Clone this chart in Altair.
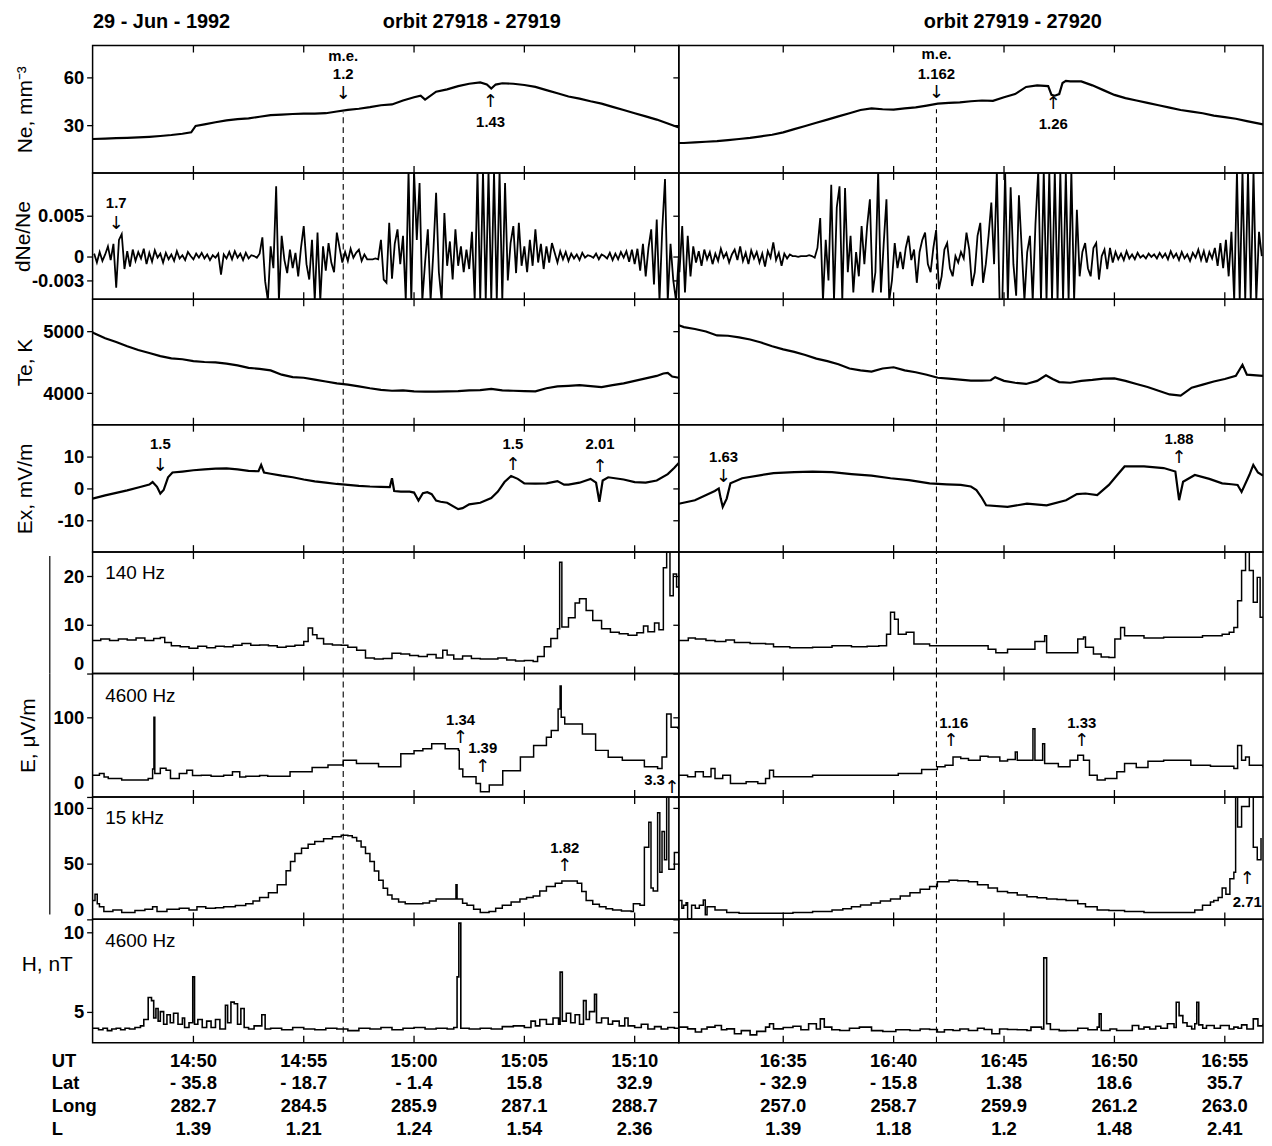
import altair as alt
import pandas as pd

# ---------------------------------------------------------------- data
# time in minutes: orbit 27918-27919 counted from 14:00 UT, orbit 27919-27920 from 16:00 UT
X_DOMAIN_L = [45.43, 72.0]
X_DOMAIN_R = [30.27, 56.73]
UT_TICKS_L = [50, 55, 60, 65, 70]
UT_TICKS_R = [35, 40, 45, 50, 55]
ME_L = 56.79
ME_R = 41.94

UT_L = ["14:50", "14:55", "15:00", "15:05", "15:10"]
LAT_L = ["- 35.8", "- 18.7", "- 1.4", "15.8", "32.9"]
LONG_L = ["282.7", "284.5", "285.9", "287.1", "288.7"]
L_L = ["1.39", "1.21", "1.24", "1.54", "2.36"]
UT_R = ["16:35", "16:40", "16:45", "16:50", "16:55"]
LAT_R = ["- 32.9", "- 15.8", "1.38", "18.6", "35.7"]
LONG_R = ["257.0", "258.7", "259.9", "261.2", "263.0"]
L_R = ["1.39", "1.18", "1.2", "1.48", "2.41"]

# Ne, mm-3
NE_L_T = [45.43, 46, 46.5, 47, 47.5, 48, 48.5, 49, 49.5, 49.9, 50.1, 50.5, 51, 51.5, 52, 52.5, 53, 53.5, 54, 54.5,
          55, 55.5, 56, 56.5, 57, 57.5, 58, 58.5, 59, 59.5, 60, 60.3, 60.5, 61, 61.5, 62, 62.5, 63, 63.3, 63.5,
          63.7, 64, 64.5, 65, 65.5, 66, 66.5, 67, 67.5, 68, 68.5, 69, 69.5, 70, 70.5, 71, 71.5, 72]
NE_L_V = [21.3, 21.5, 21.8, 22.0, 22.3, 22.7, 23.2, 23.8, 24.6, 25.5, 29.5, 30.5, 31.8, 33.0, 33.8, 34.3, 35.3, 36.3, 36.6, 37.0,
          37.2, 37.3, 37.5, 38.6, 39.6, 40.3, 41.3, 42.5, 43.0, 45.5, 47.5, 48.5, 46.0, 51.0, 52.5, 54.5, 56.0, 56.8, 55.5, 53.0,
          55.5, 56.3, 56.0, 55.2, 54.0, 52.0, 50.0, 48.0, 46.7, 45.0, 43.5, 41.5, 39.5, 37.5, 35.5, 33.5, 31.0, 28.5]
NE_R_T = [30.27, 30.5, 31, 31.5, 32, 32.5, 33, 33.5, 34, 34.5, 35, 35.5, 36, 36.5, 37, 37.5, 38, 38.5, 39, 39.5,
          40, 40.5, 41, 41.5, 42, 42.5, 43, 43.5, 44, 44.5, 45, 45.5, 46, 46.5, 47, 47.15, 47.3, 47.5, 47.65, 47.8,
          48, 48.5, 49, 49.5, 50, 50.5, 51, 51.5, 52, 52.5, 53, 53.5, 54, 54.5, 55, 55.5, 56, 56.73]
NE_R_V = [18.8, 18.8, 19.2, 19.6, 20.0, 20.6, 21.3, 22.0, 23.0, 24.0, 25.5, 27.5, 29.5, 31.5, 33.5, 35.5, 37.5, 39.5, 40.5, 40.0,
          39.8, 40.5, 41.2, 42.3, 43.5, 44.0, 44.3, 45.0, 45.5, 45.3, 47.5, 49.5, 54.0, 55.0, 54.5, 49.0, 48.5, 49.5, 56.5, 57.8,
          57.5, 57.5, 55.0, 52.0, 49.0, 47.0, 45.5, 44.0, 42.5, 41.0, 39.5, 38.5, 37.5, 36.0, 35.0, 34.0, 32.5, 30.5]

# dNe/Ne, in units of 1e-3, sampled every 0.125 min
DNE_L_T0 = 45.5
DNE_R_T0 = 30.3
DNE_DT = 0.125
DNE_L = [0.3, -0.8, 0.5, -0.6, 0.2, 1.2, -0.5, 1.5, -3.9, 2.0,
         2.7, -1.6, 0.6, -1.3, 0.8, -0.6, 0.5, -0.3, 0.9, -1.0,
         0.4, -0.7, 0.7, -0.2, 0.3, -0.8, 0.4, -0.4, 0.2, -0.6,
         0.6, -0.3, 0.1, -0.5, 0.5, 0.0, -0.4, 0.3, -0.2, 0.4,
         -0.3, 0.2, -0.5, 0.1, -0.2, 0.3, -2.3, 0.2, -0.3, 0.5,
         -0.4, 0.6, -0.2, 0.3, -0.5, 0.4, -0.3, 0.1, 0.0, -0.2,
         0.3, 2.3, -3.1, -5.5, 1.2, -1.5, 8.6, -5.5, 2.5, -0.5,
         -2.1, 0.8, -1.5, 0.4, -2.5, 1.0, 3.7, -1.0, -2.9, 2.0,
         -5.5, 2.9, -5.5, 1.2, -1.8, 1.6, -0.8, -2.0, 2.9, 1.0,
         -0.8, 0.5, -0.6, 0.9, -0.2, 0.4, 0.8, -0.6, 0.2, -0.4,
         -0.4, -0.4, -0.3, -0.4, 2.0, -2.9, -3.3, 4.1, -2.8, 1.5,
         3.3, -1.0, 2.5, -5.5, 10.5, -5.5, 10.5, 2.0, 9.0, -5.5,
         -0.8, 3.3, -5.5, 0.5, 7.8, -2.0, -5.5, 5.3, -1.2, 1.8,
         -2.9, 3.3, -1.2, 1.2, -2.0, 0.8, -1.6, 3.0, -5.5, 10.5,
         -5.5, 10.5, -5.5, 10.5, -5.5, 10.5, -5.5, 10.5, -5.5, 9.0,
         -3.0, 1.6, 3.7, -2.1, 4.1, -1.2, 1.2, -2.0, 2.0, -1.2,
         3.3, -0.8, 1.5, -1.6, 1.2, -0.8, 1.6, 0.4, -0.8, 0.6,
         -0.4, 0.5, -0.6, 0.3, -0.3, 0.2, -0.5, 0.4, -0.2, 0.1,
         0.0, -0.2, 0.3, -0.4, 0.2, 0.0, -0.3, 0.4, -0.5, 0.3,
         -0.4, 0.5, -0.2, 0.6, -0.7, 0.8, -1.0, 0.9, -1.8, 1.5,
         -2.5, 1.0, 3.3, -3.5, 4.5, -5.5, 3.3, 9.5, -5.5, 1.5,
         -3.0, -5.5, 0.0]
DNE_R = [-2.0, 3.7, -4.5, 2.5, -2.5, 1.2, -0.8, 0.6, -1.2, 0.8,
         -0.4, 0.5, -1.0, 0.3, -0.6, 0.9, -0.2, 0.4, -0.8, 0.2,
         0.8, -0.5, 1.2, -0.6, 0.4, -1.0, 0.7, -0.3, 0.5, -0.8,
         0.3, -1.3, 0.6, -0.2, 1.7, -0.5, 0.4, -1.2, 0.3, -0.3,
         0.2, 0.0, 0.0, -0.1, 0.0, 0.0, 0.0, 0.1, 0.0, -0.2,
         1.0, 4.7, -5.5, 2.0, -3.0, 8.8, -5.5, 6.0, 8.6, -5.5,
         8.4, -2.0, 2.5, -4.5, 0.5, -2.5, 3.7, -1.0, 3.7, 7.0,
         -4.5, -2.0, 10.5, -4.5, 1.5, 7.0, -5.5, -3.0, 1.6, -1.5,
         0.5, -1.6, 1.0, 2.5, -0.5, 0.8, -3.3, 0.5, 2.0, 2.9,
         -1.0, -2.0, 1.0, 3.2, -4.1, -2.5, 0.8, 1.6, -1.5, -2.5,
         0.0, -0.8, 0.5, -0.3, 2.9, 0.8, -3.7, -2.0, 2.5, 4.1,
         -3.3, -1.0, 2.5, 6.6, -1.0, 10.5, -5.5, -5.5, 10.5, -5.5,
         8.5, -1.0, -4.9, 7.5, 1.0, -5.5, 0.5, 2.5, -5.5, 4.0,
         10.5, -5.5, 10.5, -5.5, 10.5, -5.5, 10.5, -5.5, 10.5, -5.5,
         10.5, -5.5, 10.5, -5.5, 5.7, -2.5, 0.5, 1.6, -1.5, -2.5,
         1.0, 1.6, -2.9, 0.0, 0.8, -1.6, 1.0, -0.8, 0.5, -0.4,
         0.3, -0.5, 0.6, -0.3, 0.2, -0.4, 0.4, -0.2, 0.1, -0.3,
         0.3, -0.1, 0.2, -0.3, 0.4, -0.2, 0.3, -0.4, 0.6, -0.2,
         0.3, -0.5, 0.5, -0.3, 0.2, -0.6, 0.4, -0.2, 0.8, -0.5,
         0.6, -0.8, 0.5, -0.3, 1.0, -1.2, 1.6, -1.5, 2.0, -2.5,
         3.0, -5.5, 10.5, -5.5, 10.5, -5.5, 10.5, -5.5, 10.5, -5.5,
         3.0, 0.0]

# Te, K
TE_L_T = [45.43, 45.5, 46, 46.5, 47, 47.5, 48, 48.5, 49, 49.5, 50, 50.5, 51, 51.5, 52, 52.5, 53, 53.5, 54, 54.5,
          55, 55.5, 56, 56.5, 57, 57.5, 58, 58.5, 59, 59.5, 60, 60.5, 61, 61.5, 62, 62.5, 63, 63.5, 64, 64.5,
          65, 65.5, 66, 66.5, 67, 67.5, 68, 68.5, 69, 69.5, 70, 70.5, 71, 71.3, 71.5, 71.7, 72]
TE_L_V = [4985, 4970, 4890, 4830, 4760, 4700, 4650, 4600, 4565, 4550, 4520, 4505, 4500, 4480, 4450, 4410, 4395, 4370, 4300, 4260,
          4250, 4220, 4190, 4160, 4140, 4110, 4080, 4055, 4040, 4045, 4030, 4025, 4025, 4030, 4035, 4045, 4050, 4070, 4045, 4040,
          4035, 4030, 4080, 4110, 4120, 4130, 4115, 4100, 4130, 4160, 4200, 4240, 4280, 4320, 4330, 4270, 4250]
TE_R_T = [30.27, 30.5, 31, 31.5, 32, 32.5, 33, 33.5, 34, 34.5, 35, 35.5, 36, 36.5, 37, 37.5, 38, 38.5, 39, 39.5,
          40, 40.5, 41, 41.5, 42, 42.5, 43, 43.5, 44, 44.4, 44.6, 45, 45.5, 46, 46.5, 46.9, 47.2, 47.5,
          48, 48.5, 49, 49.5, 50, 50.5, 51, 51.5, 52, 52.5, 53, 53.5, 54, 54.5, 55, 55.5, 55.8, 56, 56.73]
TE_R_V = [5100, 5070, 5040, 5000, 4935, 4930, 4905, 4870, 4820, 4760, 4710, 4670, 4620, 4560, 4520, 4470, 4400, 4370, 4350, 4400,
          4420, 4370, 4340, 4300, 4250, 4235, 4220, 4205, 4205, 4210, 4260, 4200, 4170, 4150, 4200, 4290, 4230, 4180,
          4170, 4200, 4215, 4235, 4240, 4200, 4150, 4100, 4040, 3980, 3960, 4090, 4140, 4190, 4230, 4280, 4460, 4300, 4280]

# Ex, mV/m
EX_L_T = [45.43, 46, 46.5, 47, 47.5, 48, 48.15, 48.35, 48.5, 48.65, 48.85, 49.05, 49.5, 50, 50.5, 51, 51.5, 52, 52.5, 52.95,
          53.07, 53.2, 53.5, 54, 54.5, 55, 55.5, 56, 56.5, 57, 57.5, 58, 58.5, 58.9, 59.0, 59.1, 59.4, 59.8, 60.0, 60.2,
          60.4, 60.6, 60.8, 61.0, 61.2, 61.5, 62.0, 62.2, 62.5, 63.0, 63.5, 63.8, 64.1, 64.4, 64.7, 65.0, 65.5, 66.0, 66.5, 66.8,
          67.0, 67.5, 68.0, 68.25, 68.4, 68.55, 68.8, 69.5, 70.0, 70.5, 71.0, 71.5, 71.8, 72.0]
EX_L_V = [-3.2, -2.2, -1.4, -0.6, 0.3, 1.2, 2.0, 0.5, -1.6, -0.5, 3.5, 5.0, 5.3, 5.7, 6.0, 6.2, 6.3, 6.0, 5.5, 5.4,
          7.4, 5.0, 4.6, 4.0, 3.5, 2.8, 2.2, 1.8, 1.4, 1.1, 0.8, 0.6, 0.5, 0.4, 3.2, -0.8, -1.0, -1.0, -1.3, -3.8,
          -1.5, -1.2, -1.8, -3.8, -4.2, -4.5, -6.5, -6.2, -5.0, -4.5, -3.0, -1.0, 2.0, 3.9, 3.0, 1.6, 1.5, 1.6, 2.3, 1.2,
          1.2, 1.8, 3.0, 1.8, -4.2, 2.5, 3.5, 2.8, 2.0, 1.8, 2.5, 4.5, 6.5, 8.0]
EX_R_T = [30.27, 31.0, 31.9, 32.08, 32.17, 32.26, 32.44, 32.61, 33.14, 34.0, 34.56, 35.5, 36.33, 37.21, 38.09, 39.0, 39.86, 40.7, 41.63, 42.4,
          43.04, 43.5, 43.75, 44.0, 44.19, 45.16, 46.04, 46.93, 47.81, 48.3, 48.69, 49.22, 49.75, 50.1, 50.46, 51.34, 52.23, 52.76, 52.93, 53.11,
          53.64, 54.3, 54.88, 55.3, 55.58, 55.76, 56.11, 56.29, 56.5, 56.73]
EX_R_V = [-4.8, -3.7, -0.8, 0.0, -3.2, -5.8, -3.2, 1.6, 3.2, 4.2, 4.8, 5.1, 5.3, 5.1, 4.5, 4.0, 3.2, 2.6, 1.6, 1.3,
          1.1, 0.6, -0.5, -3.0, -5.3, -5.8, -4.8, -5.3, -3.7, -1.8, -1.6, -2.1, 1.1, 4.0, 6.9, 6.9, 6.4, 5.3, -3.7, 2.1,
          4.2, 3.0, 1.6, 1.3, 1.1, -1.1, 4.2, 7.4, 5.0, 4.0]

# E 140 Hz, uV/m
E140_L_T = [45.43, 45.8, 46.2, 46.6, 47.0, 47.4, 47.8, 48.2, 48.5, 48.7, 49.0, 49.4, 49.8, 50.2, 50.6, 51.0, 51.4, 51.8, 52.2, 52.6,
            53.0, 53.4, 53.8, 54.2, 54.6, 55.0, 55.2, 55.4, 55.6, 55.9, 56.3, 56.7, 57.0, 57.4, 57.8, 58.2, 58.6, 59.0, 59.4, 59.8,
            60.2, 60.6, 61.0, 61.3, 61.5, 61.8, 62.2, 62.6, 63.0, 63.4, 63.8, 64.2, 64.6, 65.0, 65.4, 65.6, 65.9, 66.2, 66.5, 66.6,
            66.7, 67.0, 67.3, 67.5, 67.8, 68.1, 68.5, 68.9, 69.3, 69.7, 70.1, 70.4, 70.6, 70.9, 71.1, 71.3, 71.45, 71.6, 71.75, 71.9, 72.0]
E140_L_V = [6.8, 7.1, 6.8, 7.1, 6.9, 7.3, 6.8, 7.2, 7.4, 6.4, 5.7, 5.5, 5.2, 5.6, 5.3, 5.6, 5.5, 5.8, 6.2, 5.8,
            5.9, 5.7, 5.4, 5.6, 5.8, 6.6, 9.4, 8.0, 7.2, 6.1, 5.9, 5.8, 5.4, 4.8, 3.2, 3.0, 3.1, 4.2, 4.0, 3.7,
            3.5, 3.9, 3.2, 4.8, 3.8, 3.0, 3.6, 3.1, 3.0, 3.0, 3.2, 2.8, 2.6, 2.7, 2.5, 3.5, 5.5, 7.2, 9.2, 22.9,
            9.6, 11.5, 14.5, 15.4, 13.0, 10.9, 9.2, 8.5, 8.2, 7.9, 8.4, 9.8, 8.6, 10.4, 9.0, 21.8, 25.0, 16.0, 20.5, 17.8, 18.0]
E140_R_T = [30.27, 30.7, 31.02, 31.5, 31.91, 32.4, 32.79, 33.5, 34.2, 34.56, 35.3, 36.33, 37.21, 38.09, 38.8, 39.33, 39.68, 39.86, 40.04, 40.21,
            40.57, 40.92, 41.63, 42.51, 43.39, 44.28, 44.63, 45.16, 46.04, 46.4, 46.84, 46.93, 47.81, 48.34, 48.6, 48.69, 49.05, 49.4, 49.75, 50.02,
            50.28, 50.46, 51.34, 52.23, 53.11, 53.99, 54.88, 55.2, 55.41, 55.58, 55.76, 55.94, 56.11, 56.29, 56.47, 56.6, 56.73]
E140_R_V = [6.8, 7.3, 7.1, 6.8, 6.6, 6.9, 6.4, 6.2, 6.1, 5.5, 5.3, 5.4, 5.7, 5.5, 5.6, 5.7, 8.1, 12.6, 11.2, 8.1,
            8.5, 6.1, 5.7, 5.7, 5.7, 5.0, 4.3, 5.0, 5.0, 6.6, 7.8, 4.3, 4.3, 7.1, 7.5, 5.4, 4.0, 3.4, 3.3, 7.1,
            9.5, 7.8, 7.3, 7.45, 7.45, 7.8, 8.1, 8.5, 9.5, 15.0, 21.2, 25.0, 21.2, 14.7, 19.8, 11.6, 11.6]

# E 4600 Hz, uV/m
E46_L_T = [45.44, 45.74, 45.95, 46.14, 46.75, 47.3, 47.95, 48.15, 48.21, 48.25, 48.5, 48.76, 48.96, 49.36, 49.7, 49.96, 50.36, 50.8, 51.37, 51.77,
           52.1, 52.37, 53.0, 53.37, 54.38, 55.38, 56.1, 56.79, 57.39, 58.39, 59.4, 60.0, 60.4, 60.8, 61.41, 62.01, 62.05, 62.21, 62.81, 63.01,
           63.21, 63.41, 64.02, 64.82, 65.42, 66.0, 66.22, 66.53, 66.62, 66.67, 66.83, 67.43, 67.63, 68.23, 68.8, 69.44, 70.44, 71.04, 71.24, 71.45,
           71.65, 71.95]
E46_L_V = [27.4, 29.5, 25.0, 23.2, 21.2, 21.2, 23.2, 35.0, 100.0, 29.5, 36.0, 33.6, 23.2, 29.5, 33.6, 27.0, 27.4, 26.0, 27.4, 31.5,
           25.0, 26.1, 27.0, 26.1, 31.5, 37.0, 40.0, 46.1, 42.0, 37.8, 54.4, 58.0, 60.6, 66.8, 60.6, 58.5, 35.0, 25.3, 17.0, 6.6,
           6.6, 14.9, 33.0, 50.2, 64.7, 75.0, 83.4, 110.4, 139.5, 100.0, 91.7, 91.7, 79.2, 58.5, 50.0, 46.1, 37.8, 35.7, 50.2, 104.2,
           87.6, 85.6]
E46_R_T = [30.27, 30.67, 31.02, 31.38, 31.73, 31.91, 32.26, 32.61, 33.32, 33.85, 34.2, 34.38, 34.56, 35.44, 36.33, 37.21, 38.09, 38.98, 40.21, 41.27,
           41.98, 42.33, 42.69, 43.04, 43.39, 43.92, 44.28, 44.81, 45.16, 45.51, 45.6, 46.22, 46.31, 46.4, 46.75, 46.84, 47.46, 47.99, 48.34, 48.6,
           48.87, 49.22, 49.58, 50.11, 50.46, 50.99, 51.52, 52.23, 52.76, 53.46, 54.35, 55.41, 55.58, 55.76, 55.94, 56.11, 56.73]
E46_R_V = [27.4, 25.3, 31.5, 25.3, 35.7, 23.2, 27.4, 17.0, 19.1, 17.0, 23.2, 33.6, 25.3, 25.3, 27.4, 27.4, 27.4, 27.4, 29.5, 34.5,
           37.8, 39.9, 50.2, 48.2, 46.1, 51.1, 50.2, 45.3, 47.0, 56.5, 46.1, 46.1, 85.6, 46.1, 66.8, 42.0, 37.8, 46.1, 52.3, 46.1,
           27.4, 21.2, 23.2, 31.5, 42.0, 37.0, 44.9, 46.1, 46.1, 39.9, 38.6, 35.7, 64.7, 46.1, 50.2, 39.9, 37.0]

# E 15 kHz, uV/m
E15_L_T = [45.44, 45.54, 45.64, 45.74, 45.94, 46.35, 46.75, 47.35, 47.8, 48.15, 48.35, 48.8, 49.36, 49.8, 50.16, 50.56, 51.0, 51.37, 51.9, 52.37,
           52.7, 53.0, 53.4, 53.8, 54.2, 54.4, 54.6, 54.9, 55.2, 55.5, 55.9, 56.3, 56.7, 57.0, 57.2, 57.4, 57.6, 57.8, 58.0, 58.2,
           58.4, 58.6, 58.8, 59.0, 59.3, 59.6, 60.0, 60.4, 60.7, 61.0, 61.4, 61.8, 61.9, 61.95, 62.2, 62.4, 62.7, 63.0, 63.4, 63.7,
           64.0, 64.4, 64.8, 65.1, 65.4, 65.7, 66.0, 66.4, 66.7, 67.0, 67.4, 67.6, 67.8, 68.1, 68.4, 68.7, 69.0, 69.4, 69.84, 69.94,
           70.24, 70.44, 70.64, 70.74, 70.84, 71.04, 71.14, 71.24, 71.35, 71.45, 71.55, 71.8, 72.0]
E15_L_V = [16.9, 22.6, 14.1, 11.3, 7.0, 8.4, 6.2, 7.9, 9.0, 11.3, 7.0, 9.0, 9.9, 8.5, 11.3, 9.9, 10.5, 11.3, 12.5, 14.1,
           16.5, 19.7, 24.0, 31.0, 43.7, 52.0, 59.2, 64.0, 67.5, 70.0, 72.5, 74.3, 75.5, 75.2, 73.5, 70.5, 65.0, 59.2, 52.0, 43.5,
           35.2, 28.0, 22.0, 18.3, 15.5, 14.1, 14.1, 14.6, 16.5, 18.3, 18.3, 18.3, 31.0, 18.3, 14.5, 12.7, 9.0, 6.2, 7.0, 10.0,
           12.7, 15.5, 18.3, 19.7, 21.1, 25.5, 29.6, 32.4, 34.4, 34.4, 32.4, 25.0, 16.9, 13.5, 11.3, 9.5, 8.4, 7.5, 7.0, 14.1,
           12.7, 64.8, 87.3, 28.2, 25.4, 95.8, 42.3, 78.9, 53.5, 114.0, 45.1, 60.0, 45.1]
E15_R_T = [30.27, 30.41, 30.49, 30.6, 30.67, 30.85, 31.02, 31.2, 31.38, 31.47, 31.55, 31.91, 32.44, 33.0, 33.67, 34.56, 35.44, 36.33, 37.21, 37.7,
           38.09, 38.5, 38.98, 39.4, 39.86, 40.3, 40.74, 41.2, 41.63, 41.98, 42.51, 42.9, 43.39, 43.8, 44.28, 44.7, 45.16, 45.6, 46.04, 46.5,
           46.93, 47.4, 47.81, 48.34, 48.69, 49.22, 49.75, 50.46, 51.34, 52.23, 53.29, 53.64, 53.99, 54.35, 54.5, 54.7, 54.88, 55.05, 55.23, 55.41,
           55.49, 55.58, 55.76, 56.11, 56.29, 56.47, 56.64]
E15_R_V = [16.9, 9.9, 12.7, 15.0, 0.5, 12.7, 9.9, 12.7, 17.5, 4.2, 11.3, 8.4, 6.2, 5.6, 5.6, 5.6, 6.2, 7.0, 8.4, 9.5,
           11.3, 13.0, 14.6, 16.5, 18.3, 21.0, 24.0, 27.0, 29.6, 33.8, 35.2, 34.8, 33.8, 31.0, 28.2, 25.0, 24.0, 22.0, 20.3, 19.5,
           18.3, 17.8, 16.9, 14.1, 11.3, 8.4, 7.9, 7.0, 6.2, 6.2, 6.2, 8.4, 12.7, 15.5, 17.0, 19.7, 28.2, 22.5, 36.6, 42.3,
           114.0, 83.1, 101.4, 114.0, 64.8, 53.5, 73.2]

# H 4600 Hz, nT
H_L_T = [45.44, 45.7, 45.9, 46.1, 46.3, 46.5, 46.7, 46.9, 47.1, 47.35, 47.6, 47.75, 47.95, 48.1, 48.2, 48.3, 48.4, 48.5, 48.65, 48.8,
         48.95, 49.1, 49.3, 49.5, 49.6, 49.8, 49.97, 50.05, 50.2, 50.4, 50.6, 50.8, 51.0, 51.2, 51.45, 51.55, 51.7, 51.85, 52.0, 52.15,
         52.3, 52.5, 52.75, 53.1, 53.25, 53.5, 54.0, 54.5, 55.0, 55.5, 56.0, 56.5, 57.0, 57.5, 58.0, 58.5, 59.0, 59.5, 60.0, 60.5,
         61.0, 61.5, 61.8, 61.95, 62.03, 62.12, 62.5, 63.0, 63.5, 64.0, 64.5, 65.0, 65.3, 65.5, 65.7, 66.0, 66.3, 66.55, 66.62, 66.72,
         66.9, 67.1, 67.3, 67.5, 67.68, 67.8, 67.95, 68.18, 68.27, 68.5, 68.8, 69.0, 69.3, 69.55, 69.7, 70.0, 70.3, 70.6, 70.9, 71.2,
         71.5, 71.8, 72.0]
H_L_V = [3.95, 3.85, 3.95, 3.8, 3.9, 3.95, 3.85, 3.95, 3.9, 4.0, 4.1, 4.5, 5.9, 5.7, 4.6, 5.2, 4.4, 5.0, 4.2, 4.8,
         4.3, 4.9, 4.2, 4.6, 4.0, 4.3, 7.2, 4.2, 4.5, 4.0, 4.4, 4.0, 4.5, 3.9, 5.4, 4.3, 5.6, 5.5, 4.2, 5.2,
         4.0, 3.9, 4.1, 4.8, 3.9, 3.95, 3.85, 4.0, 3.9, 3.85, 3.95, 3.9, 3.8, 3.95, 3.9, 4.0, 3.85, 3.95, 4.0, 3.9,
         3.95, 3.9, 4.0, 7.2, 10.6, 3.95, 3.9, 3.95, 3.9, 4.05, 4.1, 4.0, 4.4, 4.1, 4.5, 4.2, 4.6, 4.2, 7.5, 4.4,
         4.9, 4.3, 4.8, 4.2, 5.7, 4.5, 5.0, 6.1, 4.3, 4.6, 4.2, 4.4, 4.1, 4.6, 4.1, 4.0, 4.2, 3.9, 4.05, 3.9,
         4.0, 3.95, 3.9]
H_R_T = [30.27, 30.67, 31.02, 31.3, 31.55, 31.91, 32.2, 32.44, 32.79, 33.1, 33.5, 33.8, 34.2, 34.38, 34.56, 35.0, 35.44, 35.8, 36.15, 36.5,
         36.68, 36.86, 37.2, 37.56, 38.0, 38.45, 39.0, 39.51, 40.1, 40.74, 41.2, 41.63, 41.98, 42.3, 42.69, 43.0, 43.39, 43.8, 44.1, 44.45,
         44.8, 45.16, 45.6, 46.04, 46.22, 46.7, 46.8, 46.93, 47.1, 47.5, 47.81, 48.34, 48.8, 49.22, 49.31, 49.4, 49.8, 50.1, 50.46, 50.81,
         51.1, 51.34, 51.6, 51.87, 52.1, 52.4, 52.7, 52.8, 52.93, 53.1, 53.29, 53.5, 53.64, 53.73, 53.82, 54.0, 54.17, 54.52, 54.8, 55.05,
         55.2, 55.41, 55.6, 55.76, 56.0, 56.29, 56.5, 56.73]
H_R_V = [4.02, 3.91, 3.71, 3.9, 4.02, 4.12, 3.85, 3.91, 3.6, 3.8, 3.53, 3.75, 4.02, 4.23, 3.91, 4.0, 4.08, 3.85, 4.23, 3.9,
         4.54, 4.02, 3.85, 3.81, 3.95, 4.02, 3.8, 3.74, 3.85, 3.81, 3.9, 3.87, 3.71, 3.85, 3.81, 3.9, 3.81, 3.95, 3.87, 3.6,
         3.9, 3.87, 3.85, 3.81, 4.02, 3.9, 8.4, 4.23, 3.87, 3.8, 3.81, 3.95, 3.85, 4.02, 4.86, 3.81, 3.9, 3.81, 3.81, 4.12,
         3.9, 4.02, 3.9, 4.08, 3.95, 4.23, 4.0, 5.59, 4.75, 4.3, 4.08, 3.9, 4.23, 5.59, 4.16, 3.95, 4.12, 3.95, 4.12, 4.12,
         3.9, 4.02, 3.95, 4.16, 3.9, 4.54, 4.1, 4.23]

# annotations: (time, value, text)
LABELS = {
    "ne_L": [(56.79, 73.5, "m.e."), (56.79, 62.0, "1.2"), (63.47, 32.0, "1.43")],
    "ne_R": [(41.94, 74.5, "m.e."), (41.94, 62.0, "1.162"), (47.23, 31.0, "1.26")],
    "dne_L": [(46.5, 0.0066, "1.7")],
    "ex_L": [(48.5, 14.0, "1.5"), (64.48, 14.0, "1.5"), (68.43, 13.8, "2.01")],
    "ex_R": [(32.3, 9.8, "1.63"), (52.93, 15.6, "1.88")],
    "e46_L": [(62.11, 97.0, "1.34"), (63.11, 61.5, "1.39"), (70.9, 21.0, "3.3")],
    "e46_R": [(42.72, 93.0, "1.16"), (48.52, 93.0, "1.33")],
    "e15_L": [(66.83, 64.0, "1.82")],
    "e15_R": [(56.02, 15.5, "2.71")],
}
ARROWS = {
    "ne_L": [(56.79, 49.8, "↓"), (63.47, 44.6, "↑")],
    "ne_R": [(41.94, 50.2, "↓"), (47.23, 43.3, "↑")],
    "dne_L": [(46.5, 0.0040, "↓")],
    "ex_L": [(48.5, 7.0, "↓"), (64.48, 7.2, "↑"), (68.43, 6.7, "↑")],
    "ex_R": [(32.3, 3.5, "↓"), (52.93, 9.4, "↑")],
    "e46_L": [(62.11, 74.5, "↑"), (63.11, 37.5, "↑"), (71.69, 11.5, "↑")],
    "e46_R": [(42.6, 70.5, "↑"), (48.52, 70.5, "↑")],
    "e15_L": [(66.83, 47.5, "↑")],
    "e15_R": [(56.02, 36.0, "↑")],
}
INNER = {"e140": (46.0, 20.7, "140 Hz"), "e46": (46.0, 127.0, "4600 Hz"),
         "e15": (46.0, 91.0, "15 kHz"), "h": (46.0, 9.47, "4600 Hz")}

# ---------------------------------------------------------------- layout
FONT = "Liberation Sans"
ARROW_FONT = "DejaVu Sans"
W_L, W_R = 589, 587
ROW_H = [128, 127, 126, 128, 122, 124, 123, 124]


def xscale(left):
    return alt.Scale(domain=X_DOMAIN_L if left else X_DOMAIN_R, nice=False, zero=False)


def panel(side, t, v, ydom, h, yticks, interp, sw, key=None, ytitle="", tx=-67, ty=None, tangle=270,
          label_expr=None, fmt=None, me_lo=None, me_hi=None, inner=None, extra=None, flush_off=0):
    left = side == "L"
    w = W_L if left else W_R
    ticks = UT_TICKS_L if left else UT_TICKS_R
    me = ME_L if left else ME_R
    X = alt.X("t:Q", scale=xscale(left), axis=None)
    ys = alt.Scale(domain=ydom, nice=False, zero=False)
    if left:
        ax = dict(values=yticks, title=ytitle, titleX=tx, titleY=(h / 2 if ty is None else ty),
                  titleAngle=tangle, titleAlign="center", titleBaseline="middle", labelFlush=True,
                  labelFlushOffset=flush_off)
        if label_expr:
            ax["labelExpr"] = label_expr
        if fmt:
            ax["format"] = fmt
        yaxis = alt.Axis(**ax)
    else:
        yaxis = alt.Axis(values=yticks, labels=False, title="")
    layers = [
        alt.Chart(pd.DataFrame({"t": t, "v": v})).mark_line(
            color="black", strokeWidth=sw, interpolate=interp, clip=True
        ).encode(x=X, y=alt.Y("v:Q", scale=ys, axis=yaxis))
    ]
    tdf = pd.DataFrame({"t": ticks})
    layers.append(alt.Chart(tdf).mark_rule(color="black", strokeWidth=1.3).encode(
        x=X, y=alt.value(0), y2=alt.value(7)))
    layers.append(alt.Chart(tdf).mark_rule(color="black", strokeWidth=1.3).encode(
        x=X, y=alt.value(h - 7), y2=alt.value(h)))
    lo = ydom[0] if me_lo is None else me_lo
    hi = ydom[1] if me_hi is None else me_hi
    layers.append(alt.Chart(pd.DataFrame({"t": [me], "v": [lo], "v2": [hi]})).mark_rule(
        color="black", strokeWidth=1.1, strokeDash=[6, 4]).encode(
        x=X, y=alt.Y("v:Q", scale=ys), y2="v2:Q"))
    if key and key in LABELS:
        ldf = pd.DataFrame(LABELS[key], columns=["t", "v", "label"])
        layers.append(alt.Chart(ldf).mark_text(
            font=FONT, fontSize=15, fontWeight="bold", color="black", baseline="middle").encode(
            x=X, y=alt.Y("v:Q", scale=ys), text="label:N"))
    if key and key in ARROWS:
        adf = pd.DataFrame(ARROWS[key], columns=["t", "v", "label"])
        layers.append(alt.Chart(adf).mark_text(
            font=ARROW_FONT, fontSize=18, color="black", baseline="middle").encode(
            x=X, y=alt.Y("v:Q", scale=ys), text="label:N"))
    if inner and left:
        idf = pd.DataFrame([inner], columns=["t", "v", "label"])
        layers.append(alt.Chart(idf).mark_text(
            font=FONT, fontSize=19, color="black", align="left", baseline="middle").encode(
            x=X, y=alt.Y("v:Q", scale=ys), text="label:N"))
    if extra:
        layers.extend(extra(X))
    return alt.layer(*layers).properties(width=w, height=h)


def header(left):
    def f(X):
        style = dict(font=FONT, fontSize=20, fontWeight="bold", color="black", baseline="middle")
        if left:
            d1 = pd.DataFrame({"t": [45.45], "label": ["29 - Jun - 1992"]})
            d2 = pd.DataFrame({"t": [62.62], "label": ["orbit 27918 - 27919"]})
            anchor = alt.Chart(pd.DataFrame({"a": [0]})).mark_rule(
                color="white", strokeOpacity=0).encode(
                x=alt.value(-84), x2=alt.value(-83), y=alt.value(-34), y2=alt.value(-33))
            return [
                alt.Chart(d1).mark_text(align="left", **style).encode(
                    x=X, y=alt.value(-24), text="label:N"),
                alt.Chart(d2).mark_text(**style).encode(
                    x=X, y=alt.value(-24), text="label:N"),
                anchor,
            ]
        d = pd.DataFrame({"t": [45.4], "label": ["orbit 27919 - 27920"]})
        return [alt.Chart(d).mark_text(**style).encode(x=X, y=alt.value(-24), text="label:N")]
    return f


def bracket(y0, y1):
    def f(X):
        return [alt.Chart(pd.DataFrame({"a": [0]})).mark_rule(color="black", strokeWidth=1.2).encode(
            x=alt.value(-43), y=alt.value(y0), y2=alt.value(y1))]
    return f


def table(left):
    ticks = UT_TICKS_L if left else UT_TICKS_R
    rows = [UT_L, LAT_L, LONG_L, L_L] if left else [UT_R, LAT_R, LONG_R, L_R]
    recs = []
    for r, arr in enumerate(rows):
        for tt, s in zip(ticks, arr):
            recs.append({"t": tt, "row": r, "label": s})
    ys = alt.Scale(domain=[-0.78, 3.57], reverse=True, nice=False, zero=False)
    X = alt.X("t:Q", scale=xscale(left), axis=None)
    style = dict(font=FONT, fontSize=18.5, fontWeight="bold", color="black", baseline="middle")
    layers = [alt.Chart(pd.DataFrame(recs)).mark_text(**style).encode(
        x=X, y=alt.Y("row:Q", scale=ys, axis=None), text="label:N")]
    if left:
        names = pd.DataFrame({"row": [0, 1, 2, 3], "label": ["UT", "Lat", "Long", "L"]})
        layers.append(alt.Chart(names).mark_text(align="left", **style).encode(
            x=alt.value(-41), y=alt.Y("row:Q", scale=ys, axis=None), text="label:N"))
    return alt.layer(*layers).properties(width=W_L if left else W_R, height=100,
                                         view=alt.ViewBackground(stroke="transparent"))


def series(t0, vals):
    return [t0 + i * DNE_DT for i in range(len(vals))], [x / 1000.0 for x in vals]


dl_t, dl_v = series(DNE_L_T0, DNE_L)
dr_t, dr_v = series(DNE_R_T0, DNE_R)

NE_DOM = [0, 80]
DNE_DOM = [-0.00534, 0.01026]
TE_DOM = [3490, 5520]
EX_DOM = [-20, 20]
E140_DOM = [0, 25]
E46_DOM = [0, 155]
E15_DOM = [0, 110]
H_DOM = [3.03, 10.84]

minus = "datum.value < 0 ? '-' + format(-datum.value, '') : format(datum.value, '')"

cells = [
    panel("L", NE_L_T, NE_L_V, NE_DOM, ROW_H[0], [30, 60], "linear", 2.2, key="ne_L", ytitle="Ne, mm⁻³",
          me_lo=0, me_hi=38, extra=header(True)),
    panel("R", NE_R_T, NE_R_V, NE_DOM, ROW_H[0], [30, 60], "linear", 2.2, key="ne_R",
          me_lo=0, me_hi=40, extra=header(False)),
    panel("L", dl_t, dl_v, DNE_DOM, ROW_H[1], [-0.003, 0, 0.005], "linear", 1.8, key="dne_L",
          ytitle="dNe/Ne", tx=-69, label_expr=minus),
    panel("R", dr_t, dr_v, DNE_DOM, ROW_H[1], [-0.003, 0, 0.005], "linear", 1.8),
    panel("L", TE_L_T, TE_L_V, TE_DOM, ROW_H[2], [4000, 5000], "linear", 2.2, ytitle="Te, K", fmt="d"),
    panel("R", TE_R_T, TE_R_V, TE_DOM, ROW_H[2], [4000, 5000], "linear", 2.2),
    panel("L", EX_L_T, EX_L_V, EX_DOM, ROW_H[3], [-10, 0, 10], "linear", 2.2, key="ex_L",
          ytitle="Ex, mV/m", label_expr=minus),
    panel("R", EX_R_T, EX_R_V, EX_DOM, ROW_H[3], [-10, 0, 10], "linear", 2.2, key="ex_R"),
    panel("L", E140_L_T, E140_L_V, E140_DOM, ROW_H[4], [0, 10, 20], "step-after", 1.5,
          inner=INNER["e140"], extra=bracket(4, ROW_H[4])),
    panel("R", E140_R_T, E140_R_V, E140_DOM, ROW_H[4], [0, 10, 20], "step-after", 1.5),
    panel("L", E46_L_T, E46_L_V, E46_DOM, ROW_H[5], [0, 100], "step-after", 1.5, key="e46_L",
          ytitle="E, μV/m", tx=-64, inner=INNER["e46"], extra=bracket(0, ROW_H[5]), flush_off=-4),
    panel("R", E46_R_T, E46_R_V, E46_DOM, ROW_H[5], [0, 100], "step-after", 1.5, key="e46_R"),
    panel("L", E15_L_T, E15_L_V, E15_DOM, ROW_H[6], [0, 50, 100], "step-after", 1.5, key="e15_L",
          inner=INNER["e15"], extra=bracket(0, ROW_H[6] - 5)),
    panel("R", E15_R_T, E15_R_V, E15_DOM, ROW_H[6], [0, 50, 100], "step-after", 1.5, key="e15_R"),
    panel("L", H_L_T, H_L_V, H_DOM, ROW_H[7], [5, 10], "step-after", 1.6, ytitle="H, nT",
          tx=-46, ty=45, tangle=0, inner=INNER["h"]),
    panel("R", H_R_T, H_R_V, H_DOM, ROW_H[7], [5, 10], "step-after", 1.6),
    table(True),
    table(False),
]

chart = alt.concat(*cells, columns=2, spacing=0, bounds="flush", padding=0).configure_view(
    stroke="black", strokeWidth=1.5
).configure_axis(
    labelFont=FONT, labelFontSize=18.5, labelFontWeight="bold", labelColor="black", labelPadding=3,
    tickColor="black", tickSize=6, tickWidth=1.3, domain=False, grid=False,
    titleFont=FONT, titleFontSize=21, titleFontWeight="normal", titleColor="black",
)

chart.save("out.html", embed_options={"renderer": "svg", "actions": False})
